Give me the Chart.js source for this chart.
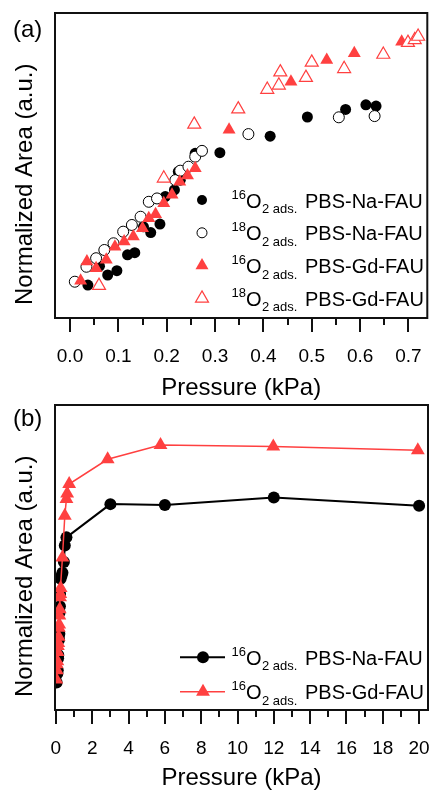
<!DOCTYPE html>
<html><head><meta charset="utf-8">
<script src="https://cdn.jsdelivr.net/npm/chart.js@4.4.1/dist/chart.umd.min.js"></script>
<style>
html,body{margin:0;padding:0;background:#fff;width:436px;height:790px;overflow:hidden}
#c1{position:absolute;left:0;top:0}
#c2{position:absolute;left:0;top:397px}
</style></head><body>
<canvas id="c1" width="436" height="400"></canvas>
<canvas id="c2" width="436" height="393"></canvas>
<script>
// ---------- Panel (a) data ----------
const A_NA16_P = [0.037,0.061,0.078,0.097,0.119,0.134,0.152,0.167,0.186,0.197,0.216,0.224,0.228,0.259,0.310,0.414,0.491,0.570,0.612,0.633];
const A_NA16_Y = [0.108,0.170,0.141,0.155,0.207,0.214,0.299,0.280,0.308,0.398,0.420,0.480,0.452,0.540,0.542,0.596,0.659,0.684,0.699,0.695];
const A_NA18_P = [0.010,0.034,0.054,0.071,0.090,0.110,0.128,0.146,0.163,0.180,0.218,0.228,0.245,0.259,0.273,0.369,0.556,0.630];
const A_NA18_Y = [0.119,0.168,0.196,0.223,0.245,0.283,0.305,0.332,0.381,0.392,0.452,0.483,0.496,0.529,0.548,0.603,0.658,0.662];
const A_GD16_P = [0.022,0.035,0.054,0.075,0.093,0.112,0.131,0.150,0.163,0.177,0.194,0.211,0.227,0.243,0.259,0.329,0.457,0.531,0.588,0.686];
const A_GD16_Y = [0.122,0.185,0.163,0.191,0.234,0.251,0.267,0.294,0.327,0.340,0.376,0.404,0.447,0.467,0.491,0.617,0.775,0.846,0.868,0.906];
const A_GD18_P = [0.060,0.194,0.257,0.348,0.408,0.432,0.435,0.488,0.500,0.567,0.648,0.699,0.713,0.720];
const A_GD18_Y = [0.106,0.458,0.635,0.685,0.749,0.763,0.806,0.788,0.838,0.817,0.864,0.903,0.912,0.923];
const A_TICKS = [0,0.1,0.2,0.3,0.4,0.5,0.6,0.7];
const A_MINOR = [0.05,0.15,0.25,0.35,0.45,0.55,0.65];

// ---------- Panel (b) data ----------
const B_NA16_P = [0.04,0.08,0.10,0.12,0.13,0.15,0.17,0.19,0.20,0.22,0.23,0.26,0.31,0.36,0.44,0.49,0.58,3.0,6.0,12.0,20.0];
const B_NA16_Y = [0.09,0.12,0.13,0.17,0.18,0.24,0.23,0.25,0.32,0.34,0.38,0.43,0.44,0.45,0.485,0.539,0.566,0.675,0.672,0.697,0.670];
const B_GD16_P = [0.02,0.04,0.05,0.08,0.09,0.11,0.13,0.15,0.16,0.18,0.19,0.21,0.23,0.24,0.26,0.36,0.49,0.58,0.62,0.73,2.85,5.76,11.97,19.93];
const B_GD16_Y = [0.10,0.15,0.13,0.16,0.19,0.21,0.22,0.24,0.27,0.28,0.31,0.33,0.37,0.38,0.40,0.50,0.637,0.692,0.71,0.741,0.822,0.869,0.864,0.852];
const B_TICKS = [0,2,4,6,8,10,12,14,16,18,20];
const B_MINOR = [1,3,5,7,9,11,13,15,17,19];

// ---------- Text ----------
const X_TITLE = 'Pressure (kPa)';
const Y_TITLE = 'Normalized Area (a.u.)';
const A_ISO = ['16','18','16','18'];
const A_NAMES = ['PBS-Na-FAU','PBS-Na-FAU','PBS-Gd-FAU','PBS-Gd-FAU'];
const B_ISO = ['16','16'];
const B_NAMES = ['PBS-Na-FAU','PBS-Gd-FAU'];

const FONT = "'Liberation Sans', Arial, Helvetica, sans-serif";
const RED = '#ff4040';
const INK = '#111';
Chart.defaults.font.family = FONT;
Chart.defaults.color = '#000';

function pts(P, Y){ return P.map((p,i)=>({x:p, y:Y[i]})); }

function isoLabel(ctx, x, yb, iso, name){
  ctx.fillStyle = '#000'; ctx.textAlign = 'left'; ctx.textBaseline = 'alphabetic';
  ctx.font = '13px ' + FONT; ctx.fillText(iso, x, yb - 9); x += ctx.measureText(iso).width;
  ctx.font = '20px ' + FONT; ctx.fillText('O', x, yb); x += ctx.measureText('O').width + 0.5;
  ctx.font = '13px ' + FONT; ctx.fillText('2 ads.', x, yb + 5.5); x += ctx.measureText('2 ads.').width + 2;
  ctx.font = '20px ' + FONT; ctx.fillText(' ' + name, x, yb);
}

function decor(cfg){
  return {
    id: 'decor',
    afterDraw(chart){
      const ctx = chart.ctx, ca = chart.chartArea, xs = chart.scales.x;
      ctx.save();
      ctx.strokeStyle = INK; ctx.lineWidth = 2; ctx.beginPath();
      cfg.major.forEach(v=>{ const px = Math.round(xs.getPixelForValue(v)); ctx.moveTo(px, ca.bottom); ctx.lineTo(px, ca.bottom + 14); });
      cfg.minor.forEach(v=>{ const px = Math.round(xs.getPixelForValue(v)); ctx.moveTo(px, ca.bottom); ctx.lineTo(px, ca.bottom + 7); });
      ctx.stroke();
      ctx.strokeRect(ca.left, ca.top, ca.right - ca.left, ca.bottom - ca.top);
      ctx.save();
      ctx.translate(25, ca.bottom - 13); ctx.rotate(-Math.PI/2);
      ctx.font = '24px ' + FONT; ctx.fillStyle = '#000'; ctx.textAlign = 'left'; ctx.textBaseline = 'middle';
      ctx.fillText(Y_TITLE, 0, 0);
      ctx.restore();
      ctx.font = '24px ' + FONT; ctx.fillStyle = '#000'; ctx.textAlign = 'left'; ctx.textBaseline = 'alphabetic';
      ctx.fillText(cfg.label, 13, cfg.labelY);
      chart.data.datasets.forEach((ds, i)=>{
        const y = cfg.legY + i * cfg.legStep, mx = cfg.legX;
        if (cfg.lines){
          ctx.strokeStyle = ds.borderColor; ctx.lineWidth = ds.borderWidth;
          ctx.beginPath(); ctx.moveTo(mx - 23, y); ctx.lineTo(mx + 22, y); ctx.stroke();
          ctx.fillStyle = ds.pointBackgroundColor; ctx.strokeStyle = ds.pointBorderColor;
          ctx.lineWidth = ds.pointBorderWidth;
          Chart.helpers.drawPoint(ctx, {pointStyle: ds.pointStyle, radius: ds.pointRadius, rotation: 0, borderWidth: ds.pointBorderWidth}, mx, y);
        } else {
          ctx.fillStyle = ds.backgroundColor; ctx.strokeStyle = ds.borderColor; ctx.lineWidth = ds.borderWidth;
          Chart.helpers.drawPoint(ctx, {pointStyle: ds.pointStyle, radius: ds.legRadius, rotation: 0, borderWidth: ds.borderWidth}, mx, y);
        }
        isoLabel(ctx, cfg.textX, y + 7.5, cfg.iso[i], cfg.names[i]);
      });
      ctx.restore();
    }
  };
}

function xScale(min, max, ticks, fmt, axisH){
  return {
    type: 'linear', min, max,
    afterBuildTicks: s => { s.ticks = ticks.map(v => ({value: v})); },
    afterFit: s => { s.height = axisH; s.paddingLeft = 0; s.paddingRight = 0; },
    grid: {display: false, drawTicks: false},
    border: {display: false},
    ticks: {autoSkip: false, maxRotation: 0, padding: 27, color: '#000', font: {size: 19}, callback: fmt},
    title: {display: true, text: X_TITLE, color: '#000', font: {size: 24, lineHeight: 1}, padding: {top: 0, bottom: 0}}
  };
}

new Chart(document.getElementById('c1'), {
  type: 'scatter',
  data: { datasets: [
    {data: pts(A_NA16_P, A_NA16_Y), pointStyle: 'circle', radius: 5.5, legRadius: 5, backgroundColor: '#000', borderColor: '#000', borderWidth: 0, order: 3},
    {data: pts(A_NA18_P, A_NA18_Y), pointStyle: 'circle', radius: 5.5, legRadius: 5, backgroundColor: '#fff', borderColor: '#000', borderWidth: 1, order: 2},
    {data: pts(A_GD16_P, A_GD16_Y), pointStyle: 'triangle', radius: 7.5, legRadius: 7.5, backgroundColor: RED, borderColor: RED, borderWidth: 0, order: 1},
    {data: pts(A_GD18_P, A_GD18_Y), pointStyle: 'triangle', radius: 7.5, legRadius: 7.5, backgroundColor: '#fff', borderColor: RED, borderWidth: 1.2, order: 0}
  ]},
  options: {
    responsive: false, animation: false, devicePixelRatio: 1,
    layout: {padding: {left: 55, right: 4, top: 13, bottom: 0}},
    scales: {
      x: xScale(-0.031, 0.739, A_TICKS, v => v.toFixed(1), 82),
      y: {type: 'linear', min: 0, max: 1, display: false}
    },
    plugins: {legend: {display: false}, tooltip: {enabled: false}}
  },
  plugins: [decor({major: A_TICKS, minor: A_MINOR, label: '(a)', labelY: 36.5, legX: 202, legY: 200, legStep: 32.8, textX: 231.5, iso: A_ISO, names: A_NAMES, lines: false})]
});

new Chart(document.getElementById('c2'), {
  type: 'scatter',
  data: { datasets: [
    {data: pts(B_NA16_P, B_NA16_Y), showLine: true, borderColor: '#000', borderWidth: 2, pointStyle: 'circle', pointRadius: 6, pointBackgroundColor: '#000', pointBorderColor: '#000', pointBorderWidth: 0, order: 1},
    {data: pts(B_GD16_P, B_GD16_Y), showLine: true, borderColor: RED, borderWidth: 1.5, pointStyle: 'triangle', pointRadius: 8, pointBackgroundColor: RED, pointBorderColor: RED, pointBorderWidth: 0, order: 0}
  ]},
  options: {
    responsive: false, animation: false, devicePixelRatio: 1,
    layout: {padding: {left: 55, right: 4, top: 7, bottom: 0}},
    scales: {
      x: xScale(-0.05, 20.49, B_TICKS, v => String(v), 80),
      y: {type: 'linear', min: 0, max: 1, display: false}
    },
    plugins: {legend: {display: false}, tooltip: {enabled: false}}
  },
  plugins: [decor({major: B_TICKS, minor: B_MINOR, label: '(b)', labelY: 29, legX: 203, legY: 260.3, legStep: 34.4, textX: 231.5, iso: B_ISO, names: B_NAMES, lines: true})]
});
</script>
</body></html>
